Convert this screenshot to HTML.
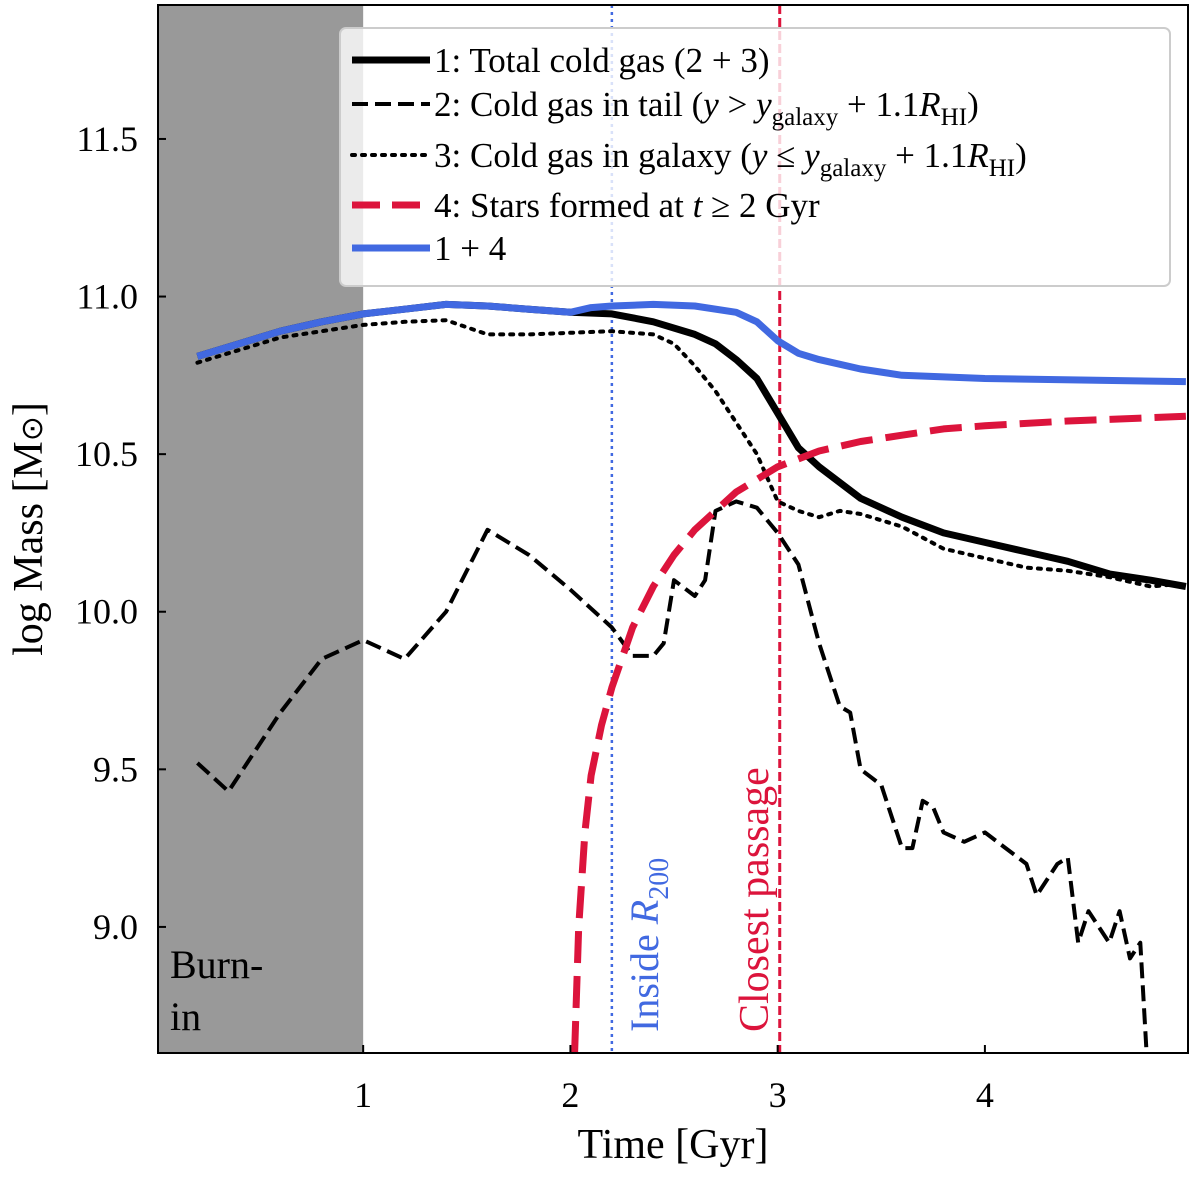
<!DOCTYPE html>
<html><head><meta charset="utf-8"><style>
html,body{margin:0;padding:0;background:#fff;}
svg{display:block;font-family:"Liberation Serif",serif;}
</style></head><body>
<svg id="chart" width="1200" height="1178" viewBox="0 0 1200 1178" xmlns="http://www.w3.org/2000/svg"></svg>
<script>
const xTicks=[1,2,3,4];
const yTicks=[9.0,9.5,10.0,10.5,11.0,11.5];
const yTickLabels=["9.0","9.5","10.0","10.5","11.0","11.5"];
const tBlue=[0.2,0.3,0.4,0.6,0.8,1.0,1.2,1.4,1.6,1.8,2.0,2.1,2.2,2.4,2.6,2.8,2.9,3.0,3.1,3.2,3.4,3.6,3.8,4.0,4.5,4.97];
const mBlue=[10.81,10.83,10.85,10.89,10.92,10.945,10.96,10.975,10.97,10.96,10.95,10.965,10.97,10.975,10.97,10.95,10.92,10.86,10.82,10.8,10.77,10.75,10.745,10.74,10.735,10.73];
const tTotal=[0.2,0.4,0.6,0.8,1.0,1.2,1.4,1.6,1.8,2.0,2.2,2.4,2.6,2.7,2.8,2.9,3.0,3.1,3.2,3.4,3.6,3.8,4.0,4.2,4.4,4.6,4.8,4.97];
const mTotal=[10.81,10.85,10.89,10.92,10.945,10.96,10.975,10.97,10.96,10.95,10.945,10.92,10.88,10.85,10.8,10.74,10.63,10.52,10.46,10.36,10.3,10.25,10.22,10.19,10.16,10.12,10.1,10.08];
const tGal=[0.2,0.4,0.6,0.8,1.0,1.2,1.4,1.6,1.8,2.0,2.2,2.4,2.5,2.6,2.7,2.8,2.9,3.0,3.1,3.2,3.3,3.4,3.6,3.8,4.0,4.2,4.4,4.6,4.8,4.97];
const mGal=[10.79,10.83,10.87,10.89,10.91,10.92,10.925,10.88,10.88,10.885,10.89,10.88,10.85,10.78,10.7,10.6,10.5,10.35,10.32,10.3,10.32,10.31,10.27,10.2,10.17,10.14,10.13,10.11,10.08,10.09];
const tTail=[0.2,0.35,0.6,0.8,1.0,1.2,1.4,1.6,1.8,2.0,2.2,2.3,2.4,2.45,2.5,2.6,2.65,2.7,2.8,2.9,3.0,3.1,3.2,3.3,3.35,3.4,3.5,3.6,3.65,3.7,3.75,3.8,3.9,4.0,4.1,4.2,4.25,4.35,4.4,4.45,4.5,4.6,4.65,4.7,4.75,4.78];
const mTail=[9.52,9.43,9.68,9.85,9.91,9.85,10.0,10.26,10.18,10.07,9.95,9.86,9.86,9.9,10.1,10.05,10.1,10.32,10.35,10.33,10.25,10.15,9.9,9.7,9.68,9.5,9.45,9.25,9.25,9.4,9.38,9.3,9.27,9.3,9.25,9.2,9.1,9.2,9.22,8.95,9.05,8.95,9.05,8.9,8.95,8.6];
const tStars=[2.02,2.04,2.07,2.1,2.15,2.2,2.3,2.4,2.5,2.6,2.7,2.8,2.9,3.0,3.2,3.4,3.6,3.8,4.0,4.4,4.97];
const mStars=[8.6,9.0,9.3,9.48,9.64,9.76,9.95,10.08,10.18,10.26,10.32,10.38,10.42,10.46,10.51,10.54,10.56,10.58,10.59,10.605,10.62];
const tR200=2.2, tPassage=3.01, tBurn=1.0;

const L=158,R=1188,T=5,B=1053;
const X0=0.01,X1=4.98,Y0=8.6,Y1=11.925;
const sx=t=>L+(t-X0)/(X1-X0)*(R-L);
const sy=m=>B-(m-Y0)/(Y1-Y0)*(B-T);
const svg=document.getElementById('chart');
const NS="http://www.w3.org/2000/svg";
function mk(tag,attrs,parent){const e=document.createElementNS(NS,tag);for(const k in attrs)e.setAttribute(k,attrs[k]);(parent||svg).appendChild(e);return e;}
const defs=mk('defs',{});const cp=mk('clipPath',{id:'pc'},defs);mk('rect',{x:L,y:T,width:R-L,height:B-T},cp);
const burn=mk('rect',{x:L,y:T,width:sx(tBurn)-L,height:B-T,fill:'#999'});


const g=mk('g',{'clip-path':'url(#pc)'});
function line(ts,ms,attrs,name){const d=ts.map((t,i)=>(i?'L':'M')+sx(t).toFixed(1)+','+sy(ms[i]).toFixed(1)).join('');const p=mk('path',Object.assign({d:d,fill:'none','stroke-linejoin':'round'},attrs),g);

return p;}
const vb=mk('line',{x1:sx(tR200),x2:sx(tR200),y1:T,y2:B,stroke:'#4169e1','stroke-width':2.5,'stroke-dasharray':'3,4'},g);


const vr=mk('line',{x1:sx(tPassage),x2:sx(tPassage),y1:T,y2:B,stroke:'#dc143c','stroke-width':3,'stroke-dasharray':'9,4'},g);


line(tTail,mTail,{stroke:'#000','stroke-width':4,'stroke-dasharray':'16,7'},'tail-gas-line');
line(tGal,mGal,{stroke:'#000','stroke-width':4,'stroke-dasharray':'3,7','stroke-linecap':'round'},'galaxy-gas-line');
line(tTotal,mTotal,{stroke:'#000','stroke-width':7},'total-gas-line');
line(tStars,mStars,{stroke:'#dc143c','stroke-width':7,'stroke-dasharray':'32,13'},'stars-line');
line(tBlue,mBlue,{stroke:'#4169e1','stroke-width':7},'total-plus-stars-line');
const fr=mk('rect',{x:L,y:T,width:R-L,height:B-T,fill:'none',stroke:'#000','stroke-width':2});


xTicks.forEach(v=>{const x=sx(v);mk('line',{x1:x,x2:x,y1:B,y2:B-8,stroke:'#000','stroke-width':2});
const t=mk('text',{x:x,y:B+54,'font-size':36,'text-anchor':'middle'});t.textContent=v;

});
yTicks.forEach((v,i)=>{const y=sy(v);mk('line',{x1:L,x2:L+8,y1:y,y2:y,stroke:'#000','stroke-width':2});
const t=mk('text',{x:L-20,y:y+12,'font-size':36,'text-anchor':'end'});t.textContent=yTickLabels[i];

});
</script>
<svg style="position:absolute;left:0;top:0" width="1200" height="1178" font-family="Liberation Serif, serif">
<text x="673" y="1158" font-size="42" text-anchor="middle">Time [Gyr]</text>
<text transform="translate(42,529) rotate(-90)" font-size="42" text-anchor="middle">log Mass [M<tspan font-family="DejaVu Sans" font-size="30">⊙</tspan>]</text>
<text x="170" y="978" font-size="40">Burn-</text>
<text x="170" y="1030" font-size="40">in</text>
<text transform="translate(658,1032) rotate(-90)" font-size="40" fill="#4169e1">Inside <tspan font-style="italic">R</tspan><tspan font-size="28" dy="10">200</tspan></text>
<text transform="translate(768,1032) rotate(-90)" font-size="42" fill="#dc143c">Closest passage</text>
<g>
<rect x="340" y="28" width="830" height="258" rx="6" fill="#fff" fill-opacity="0.8" stroke="#ccc" stroke-width="2"/>
<line x1="352" x2="430" y1="60" y2="60" stroke="#000" stroke-width="7"/>
<line x1="352" x2="430" y1="104" y2="104" stroke="#000" stroke-width="4" stroke-dasharray="16,7"/>
<line x1="352" x2="430" y1="155" y2="155" stroke="#000" stroke-width="4" stroke-dasharray="3,7" stroke-linecap="round"/>
<line x1="352" x2="430" y1="205" y2="205" stroke="#dc143c" stroke-width="7" stroke-dasharray="28,12"/>
<line x1="352" x2="430" y1="248" y2="248" stroke="#4169e1" stroke-width="7"/>
<g font-size="35">
<text x="434" y="72">1: Total cold gas (2 + 3)</text>
<text x="434" y="116">2: Cold gas in tail (<tspan font-style="italic">y</tspan> &gt; <tspan font-style="italic">y</tspan><tspan font-size="25" dy="9">galaxy</tspan><tspan dy="-9"> + 1.1</tspan><tspan font-style="italic">R</tspan><tspan font-size="25" dy="9">HI</tspan><tspan dy="-9">)</tspan></text>
<text x="434" y="167">3: Cold gas in galaxy (<tspan font-style="italic">y</tspan> ≤ <tspan font-style="italic">y</tspan><tspan font-size="25" dy="9">galaxy</tspan><tspan dy="-9"> + 1.1</tspan><tspan font-style="italic">R</tspan><tspan font-size="25" dy="9">HI</tspan><tspan dy="-9">)</tspan></text>
<text x="434" y="217">4: Stars formed at <tspan font-style="italic">t</tspan> ≥ 2 Gyr</text>
<text x="434" y="260">1 + 4</text>
</g></g>
</svg>
</body></html>
